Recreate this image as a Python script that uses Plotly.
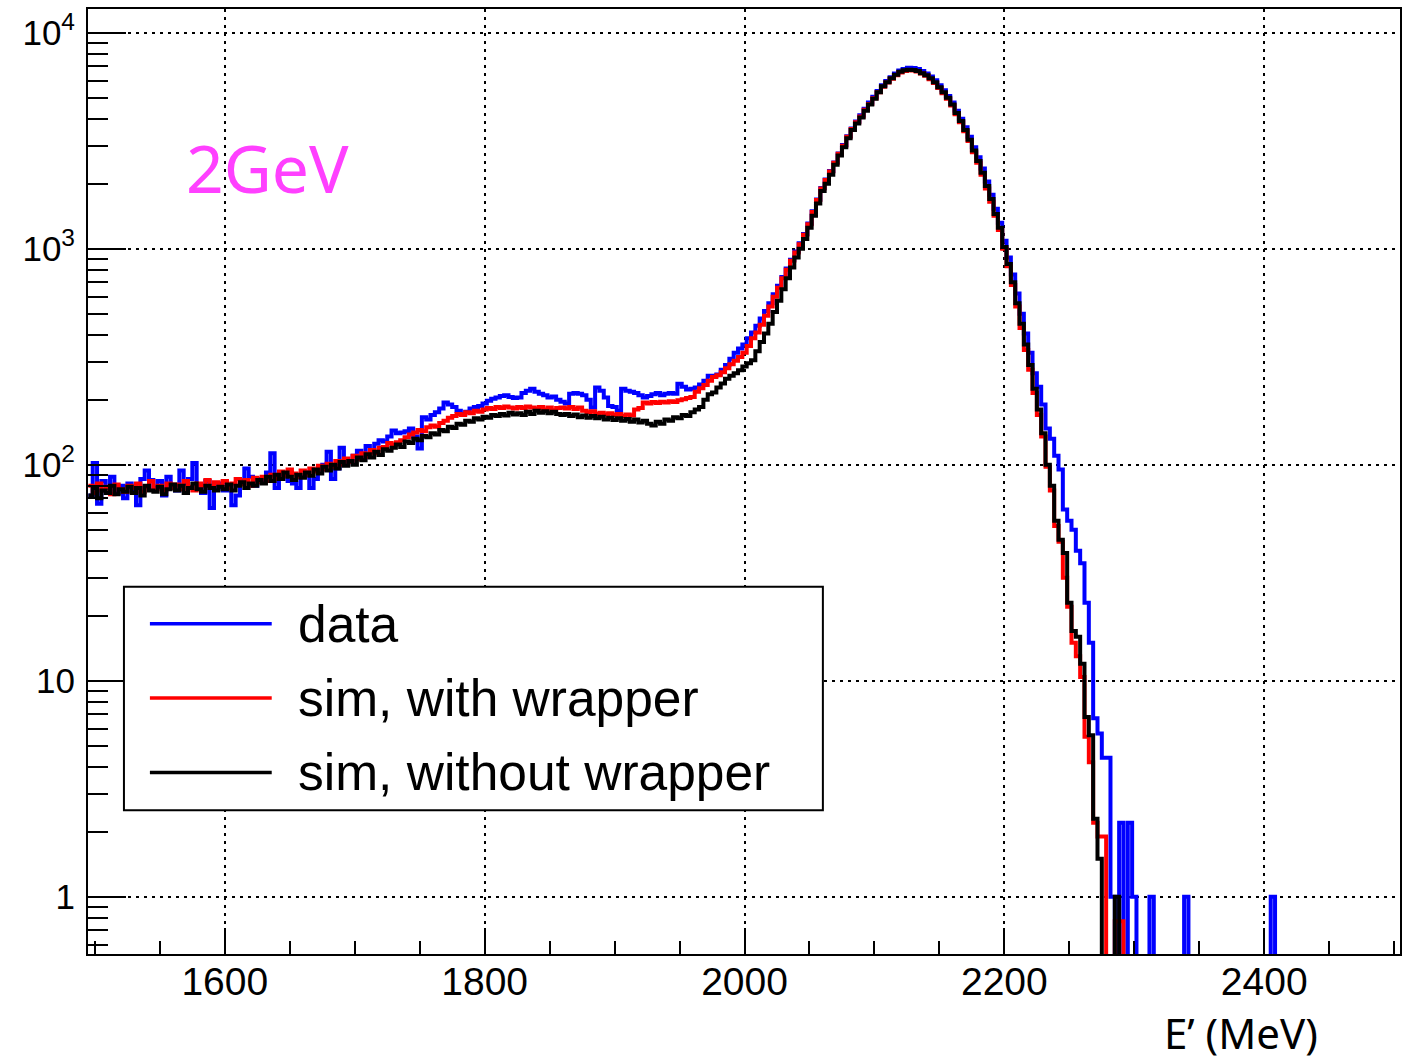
import numpy as np
import plotly.graph_objects as go

# ---------------- data (counts per bin) ----------------
bin_lo = 1495.0          # MeV, first bin edge
bin_width = 10.0 / 3.0   # MeV
n_bins = 303

data_counts = [
    72, 102, 66, 84, 78, 88, 74, 80, 70, 82,
    76, 65, 86, 94, 85, 78, 84, 72, 88, 80,
    76, 94, 82, 86, 102, 80, 74, 84, 63, 78,
    82, 76, 80, 65, 72, 84, 96, 88, 80, 86,
    84, 92, 113, 78, 86, 90, 84, 82, 78, 88,
    92, 78, 86, 95, 100, 115, 86, 96, 120, 102,
    104, 110, 116, 108, 122, 115, 125, 130, 128, 135,
    144, 140, 141, 143, 147, 135, 119, 166, 162, 170,
    175, 182, 194, 190, 185, 178, 172, 176, 182, 185,
    187, 192, 198, 202, 205, 208, 210, 206, 204, 205,
    215, 220, 225, 218, 213, 210, 205, 207, 200, 196,
    192, 213, 215, 213, 210, 200, 184, 228, 220, 205,
    187, 185, 178, 225, 220, 218, 215, 210, 205, 208,
    212, 215, 210, 213, 215, 213, 237, 230, 223, 225,
    228, 235, 245, 258, 258, 262, 275, 290, 310, 330,
    345, 360, 385, 410, 440, 475, 515, 560, 615, 675,
    740, 810, 890, 970, 1060, 1170, 1310, 1490, 1690, 1910,
    2090, 2290, 2510, 2760, 3020, 3320, 3600, 3880, 4150, 4450,
    4750, 5050, 5380, 5720, 5980, 6230, 6480, 6680, 6800, 6880,
    6870, 6800, 6650, 6480, 6270, 6020, 5720, 5420, 5100, 4750,
    4350, 4000, 3650, 3300, 2950, 2650, 2350, 2050, 1780, 1530,
    1320, 1090, 910, 760, 620, 500, 405, 330, 265, 230,
    190, 147, 132, 110, 95, 62, 55, 50, 40, 35,
    23, 15, 6.7, 5.7, 4.4, 4.4, 1, 0, 2.2, 0,
    2.2, 1, 0, 0, 0, 1, 0, 0, 0, 0,
    0, 0, 0, 1, 0, 0, 0, 0, 0, 0,
    0, 0, 0, 0, 0, 0, 0, 0, 0, 0,
    0, 0, 0, 1, 0, 0, 0, 0, 0, 0,
    0, 0, 0, 0, 0, 0, 0, 0, 0, 0,
    0, 0, 0, 0, 0, 0, 0, 0, 0, 0,
    0, 0, 0,
]

sim_with_wrapper = [
    80, 74, 82, 76, 79, 73, 81, 77, 75, 80,
    78, 82, 75, 79, 84, 77, 80, 76, 82, 78,
    81, 77, 84, 79, 76, 82, 80, 85, 78, 83,
    80, 84, 78, 82, 86, 81, 85, 80, 87, 83,
    88, 84, 90, 86, 93, 89, 95, 91, 88, 94,
    90, 96, 93, 99, 95, 101, 98, 104, 100, 107,
    103, 110, 106, 113, 109, 117, 113, 120, 121, 126,
    124, 127, 130, 134, 138, 141, 145, 143, 149, 152,
    150, 156, 160, 165, 168, 172, 170, 175, 173, 178,
    176, 180, 183, 181, 185, 183, 186, 184, 182, 185,
    183, 186, 184, 182, 185, 180, 184, 179, 183, 184,
    182, 185, 181, 184, 178, 175, 177, 172, 174, 171,
    173, 170, 172, 168, 171, 169, 180, 183, 194, 192,
    195, 193, 196, 194, 197, 195, 199, 201, 204, 206,
    218, 226, 234, 245, 255, 260, 268, 280, 292, 303,
    315, 330, 355, 385, 410, 445, 490, 540, 600, 660,
    730, 800, 880, 960, 1050, 1160, 1300, 1480, 1680, 1900,
    2080, 2280, 2500, 2750, 3000, 3300, 3580, 3850, 4100, 4400,
    4680, 4980, 5300, 5630, 5880, 6120, 6350, 6550, 6650, 6700,
    6680, 6620, 6480, 6320, 6100, 5850, 5550, 5250, 4950, 4600,
    4200, 3850, 3500, 3150, 2800, 2500, 2200, 1900, 1650, 1420,
    1220, 1000, 830, 680, 540, 430, 340, 275, 215, 170,
    135, 98, 76, 52, 44, 30, 22, 15, 13, 10.4,
    5.5, 4.2, 2.2, 1.9, 1.9, 0, 0, 0.77, 0.77, 0,
    0, 0, 0, 0, 0, 0, 0, 0, 0, 0,
    0, 0, 0, 0, 0, 0, 0, 0, 0, 0,
    0, 0, 0, 0, 0, 0, 0, 0, 0, 0,
    0, 0, 0, 0, 0, 0, 0, 0, 0, 0,
    0, 0, 0, 0, 0, 0, 0, 0, 0, 0,
    0, 0, 0, 0, 0, 0, 0, 0, 0, 0,
    0, 0, 0,
]

sim_without_wrapper = [
    72, 78, 70, 76, 74, 80, 73, 77, 75, 79,
    74, 78, 72, 80, 76, 75, 79, 73, 77, 81,
    76, 80, 74, 78, 82, 77, 75, 80, 78, 76,
    79, 77, 81, 76, 80, 83, 78, 82, 80, 85,
    82, 88, 84, 90, 86, 92, 88, 85, 90, 87,
    92, 89, 95, 91, 98, 94, 100, 96, 103, 99,
    104, 100, 108, 105, 112, 108, 115, 111, 118, 116,
    120, 124, 121, 128, 126, 132, 130, 136, 134, 140,
    138, 145, 143, 150, 148, 155, 153, 160, 158, 164,
    162, 167, 165, 170, 168, 172, 169, 174, 171, 173,
    170, 176, 172, 178, 174, 177, 173, 176, 172, 170,
    172, 168, 171, 166, 169, 165, 168, 164, 167, 162,
    165, 161, 164, 160, 163, 158, 162, 157, 160, 155,
    152, 158, 155, 162, 160, 166, 164, 170, 168, 175,
    180, 185, 200, 212, 216, 228, 238, 250, 258, 265,
    274, 285, 295, 305, 335, 370, 405, 450, 510, 575,
    650, 730, 820, 910, 1000, 1110, 1250, 1420, 1620, 1850,
    2000, 2200, 2450, 2700, 2950, 3250, 3550, 3800, 4050, 4350,
    4650, 4950, 5300, 5650, 5900, 6150, 6400, 6600, 6700, 6750,
    6720, 6650, 6500, 6350, 6150, 5900, 5600, 5300, 5000, 4650,
    4250, 3900, 3550, 3200, 2850, 2550, 2250, 1950, 1700, 1450,
    1250, 1020, 850, 700, 560, 450, 360, 290, 225, 180,
    140, 100, 80, 55, 45, 39, 23, 17, 16, 12,
    6.8, 5.6, 2.3, 1.5, 0, 0, 0, 1, 0, 0,
    0, 0, 0, 0, 0, 0, 0, 0, 0, 0,
    0, 0, 0, 0, 0, 0, 0, 0, 0, 0,
    0, 0, 0, 0, 0, 0, 0, 0, 0, 0,
    0, 0, 0, 0, 0, 0, 0, 0, 0, 0,
    0, 0, 0, 0, 0, 0, 0, 0, 0, 0,
    0, 0, 0, 0, 0, 0, 0, 0, 0, 0,
    0, 0, 0,
]

series_names = ["data", "sim, with wrapper", "sim, without wrapper"]
series_colors = ["#0000ff", "#ff0000", "#000000"]
x_tick_vals = [1600, 1800, 2000, 2200, 2400]
y_tick_vals = [1, 10, 100, 1000, 10000]
y_tick_text = ["1", "10", "10<sup>2</sup>", "10<sup>3</sup>", "10<sup>4</sup>"]
label_text = "2GeV"
x_title = "E\u2019 (MeV)"

# ---------------- figure ----------------
W, H = 1409, 1058
L, R, T, B = 88, 7, 7, 104
plot_w = W - L - R
plot_h = H - T - B


def px(xp):
    return (xp - L) / plot_w


def py(yp):
    return (H - B - yp) / plot_h


edges = bin_lo + np.arange(n_bins + 1) * bin_width
floor_val = 1e-2

fig = go.Figure()
for name, vals, col in zip(series_names,
                           [data_counts, sim_with_wrapper, sim_without_wrapper],
                           series_colors):
    v = np.asarray(vals, dtype=float)
    v = np.where(v > 0, v, floor_val)
    yy = np.append(v, v[-1])
    fig.add_trace(go.Scatter(x=edges, y=yy, mode="lines", name=name,
                             line=dict(color=col, width=4, shape="hv"),
                             hoverinfo="skip"))

# invisible trace to carry minor-tick overlay axis
fig.add_trace(go.Scatter(x=[1600], y=[100], yaxis="y2", mode="markers",
                         marker=dict(opacity=0), showlegend=False, hoverinfo="skip"))

minor_y = [m * 10.0 ** e for e in range(-1, 5) for m in range(2, 10)]
minor_y = [v for v in minor_y if 0.5 < v < 13000]

font_axis = "Liberation Sans, Arial, Helvetica, sans-serif"
grid_dash = "2.5px,5.5px"

fig.update_layout(
    width=W, height=H,
    margin=dict(l=L, r=R, t=T, b=B),
    plot_bgcolor="white", paper_bgcolor="white",
    showlegend=False,
    xaxis=dict(
        range=[1494.7, 2504.5],
        showline=True, linecolor="black", linewidth=2, mirror=True,
        ticks="inside", ticklen=26, tickwidth=2, tickcolor="black",
        tickvals=x_tick_vals,
        tickfont=dict(family=font_axis, size=39, color="black"),
        ticklabelstandoff=-8,
        showgrid=True, gridcolor="black", gridwidth=2, griddash=grid_dash,
        zeroline=False,
        minor=dict(ticks="inside", ticklen=13, tickwidth=2, tickcolor="black",
                   dtick=50, tick0=1500, showgrid=False),
    ),
    yaxis=dict(
        type="log", range=[-0.265, 4.110],
        showline=True, linecolor="black", linewidth=2, mirror=True,
        ticks="inside", ticklen=38, tickwidth=2, tickcolor="black",
        tickvals=y_tick_vals, ticktext=y_tick_text,
        tickfont=dict(family=font_axis, size=35, color="black"),
        ticklabelstandoff=4,
        showgrid=True, gridcolor="black", gridwidth=2, griddash=grid_dash,
        zeroline=False,
    ),
    yaxis2=dict(
        type="log", range=[-0.265, 4.110], overlaying="y", side="left", anchor="x",
        ticks="inside", ticklen=20, tickwidth=2, tickcolor="black",
        tickvals=minor_y, showticklabels=False, showgrid=False, showline=False,
        zeroline=False,
    ),
)

# legend box (drawn manually, ROOT style)
fig.add_shape(type="rect", xref="paper", yref="paper",
              x0=px(124), x1=px(824), y0=py(810), y1=py(586),
              line=dict(color="black", width=2), fillcolor="white", layer="above")
for i, (name, col) in enumerate(zip(series_names, series_colors)):
    yl = 623 + i * 74.5
    fig.add_shape(type="line", xref="paper", yref="paper",
                  x0=px(150), x1=px(272), y0=py(yl), y1=py(yl),
                  line=dict(color=col, width=3.5), layer="above")
    fig.add_annotation(xref="paper", yref="paper", x=px(296), y=py(yl),
                       xanchor="left", yanchor="middle", showarrow=False,
                       text=name, font=dict(family=font_axis, size=51.5, color="black"))

# energy label
fig.add_annotation(xref="paper", yref="paper", x=px(184), y=py(165),
                   xanchor="left", yanchor="middle", showarrow=False,
                   text=label_text, font=dict(family="Noto Sans, Open Sans, sans-serif",
                                              size=66, color="#ff40ff"))

# x-axis title (ROOT right-aligned)
fig.add_annotation(xref="paper", yref="paper", x=px(1322), y=py(1033),
                   xanchor="right", yanchor="middle", showarrow=False,
                   text=x_title, font=dict(family="Noto Sans, Open Sans, sans-serif",
                                           size=42, color="black"))

fig.write_html("out.html")
